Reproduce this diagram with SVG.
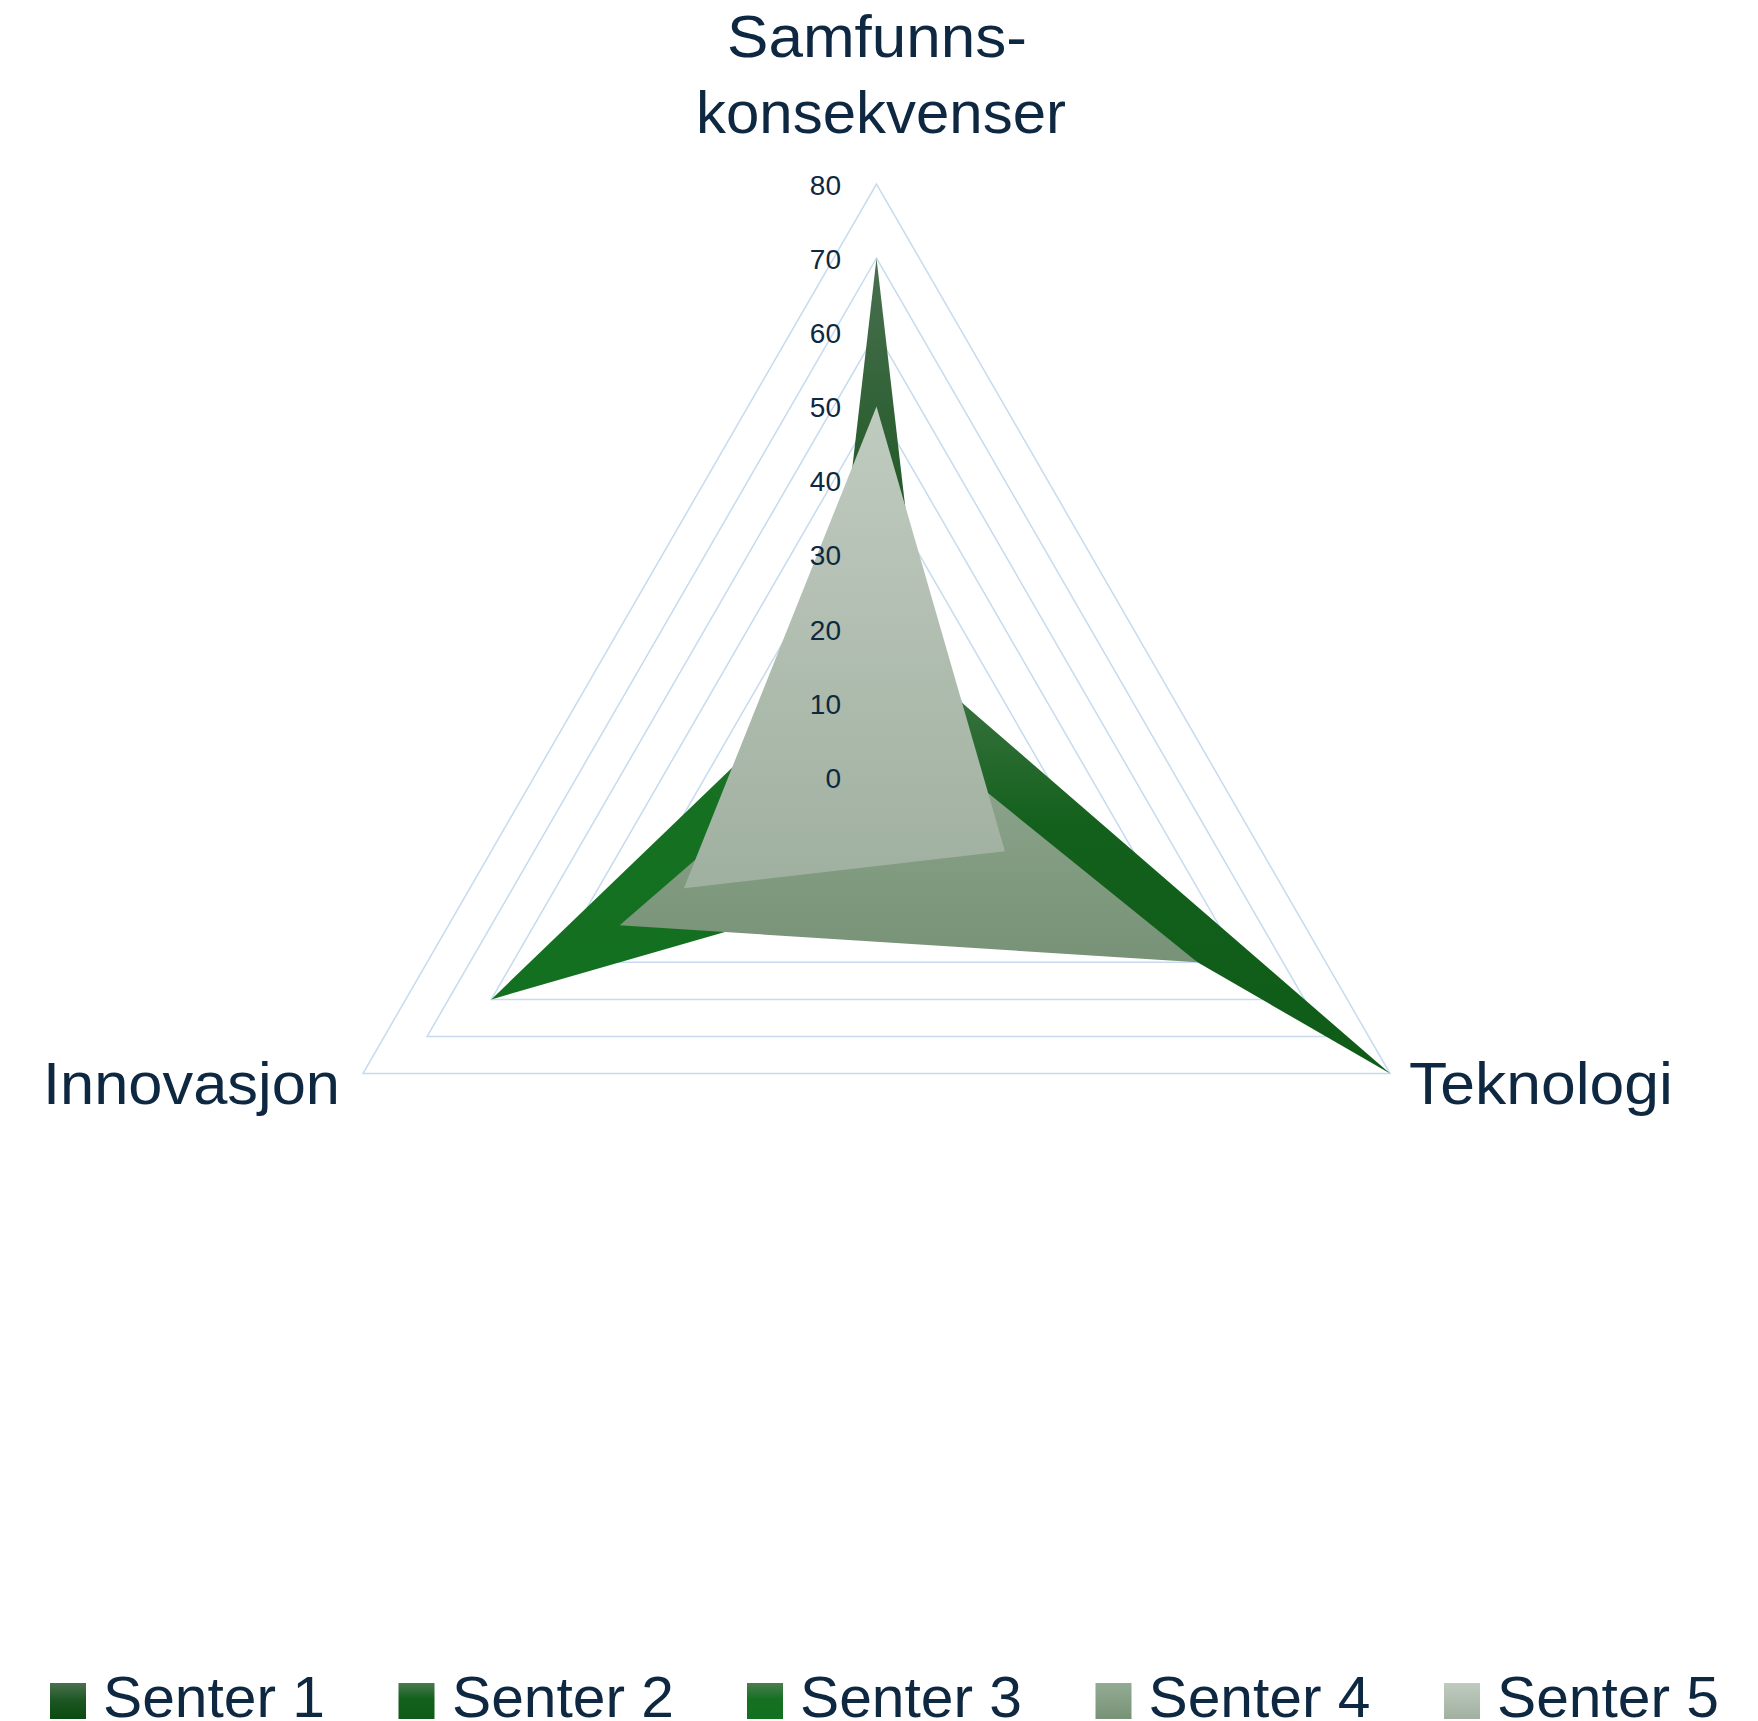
<svg xmlns="http://www.w3.org/2000/svg" width="1758" height="1721" viewBox="0 0 1758 1721">
<style>
.ring{fill:none;stroke:#c6dbf0;stroke-width:1.5}
.t{font-family:"Liberation Sans",Arial,sans-serif;fill:#0e2841}
.ax{font-size:60px}
.tick{font-size:28px;text-anchor:end}
.leg{font-size:57px}
</style>
<defs>
<linearGradient id="g1" x1="0" y1="0" x2="0" y2="1"><stop offset="0" stop-color="#4a7050"/><stop offset="0.5" stop-color="#1c5621"/><stop offset="1" stop-color="#0a4a10"/></linearGradient>
<linearGradient id="g2" x1="0" y1="0" x2="0" y2="1"><stop offset="0" stop-color="#4a7a50"/><stop offset="0.45" stop-color="#12601b"/><stop offset="1" stop-color="#0e5c18"/></linearGradient>
<linearGradient id="g3" x1="0" y1="0" x2="0" y2="1"><stop offset="0" stop-color="#4a7e50"/><stop offset="0.45" stop-color="#167022"/><stop offset="1" stop-color="#137020"/></linearGradient>
<linearGradient id="g4" x1="0" y1="0" x2="0" y2="1"><stop offset="0" stop-color="#93ab93"/><stop offset="1" stop-color="#779277"/></linearGradient>
<linearGradient id="g5" x1="0" y1="0" x2="0" y2="1"><stop offset="0" stop-color="#c0cbc0"/><stop offset="1" stop-color="#a0b0a0"/></linearGradient>
</defs>
<rect width="1758" height="1721" fill="#fff"/>
<g id="grid">
<polygon class="ring" points="876.5,702.88 940.69,814.06 812.31,814.06"/>
<polygon class="ring" points="876.5,628.75 1004.89,851.13 748.11,851.13"/>
<polygon class="ring" points="876.5,554.63 1069.08,888.19 683.92,888.19"/>
<polygon class="ring" points="876.5,480.5 1133.27,925.25 619.73,925.25"/>
<polygon class="ring" points="876.5,406.38 1197.47,962.31 555.53,962.31"/>
<polygon class="ring" points="876.5,332.25 1261.66,999.38 491.34,999.38"/>
<polygon class="ring" points="876.5,258.13 1325.86,1036.44 427.14,1036.44"/>
<polygon class="ring" points="876.5,184 1390.05,1073.5 362.95,1073.5"/>
</g>
<g id="connectors">
<polygon id="senter1" fill="url(#g1)" points="876.5,258.13 940.69,814.06 812.31,814.06"/>
<polygon id="senter2" fill="url(#g2)" points="876.5,628.75 1390.05,1073.5 876.5,777"/>
<polygon id="senter3" fill="url(#g3)" points="876.5,628.75 1004.89,851.13 491.34,999.38"/>
<polygon id="senter4" fill="url(#g4)" points="876.5,702.88 1197.47,962.31 619.73,925.25"/>
<polygon id="senter5" fill="url(#g5)" points="876.5,406.38 1004.89,851.13 683.92,888.19"/>
</g>
<g id="ticks" class="t tick">
<text x="841" y="195">80</text>
<text x="841" y="269">70</text>
<text x="841" y="343">60</text>
<text x="841" y="417">50</text>
<text x="841" y="491">40</text>
<text x="841" y="565">30</text>
<text x="841" y="640">20</text>
<text x="841" y="714">10</text>
<text x="841" y="788">0</text>
</g>
<g id="axis-samfunn" class="t ax"><text x="727" y="57" textLength="300" lengthAdjust="spacingAndGlyphs">Samfunns-</text><text x="696" y="133" textLength="370" lengthAdjust="spacingAndGlyphs">konsekvenser</text></g>
<g id="axis-innovasjon" class="t ax"><text x="43" y="1104" textLength="297" lengthAdjust="spacingAndGlyphs">Innovasjon</text></g>
<g id="axis-teknologi" class="t ax"><text x="1409" y="1104" textLength="264" lengthAdjust="spacingAndGlyphs">Teknologi</text></g>
<g id="legend" class="t leg">
<rect x="50" y="1683" width="36" height="36" fill="url(#g1)"/><text x="103" y="1717" textLength="222" lengthAdjust="spacingAndGlyphs">Senter 1</text>
<rect x="398.5" y="1683" width="36" height="36" fill="url(#g2)"/><text x="452" y="1717" textLength="222" lengthAdjust="spacingAndGlyphs">Senter 2</text>
<rect x="747" y="1683" width="36" height="36" fill="url(#g3)"/><text x="800" y="1717" textLength="222" lengthAdjust="spacingAndGlyphs">Senter 3</text>
<rect x="1095.5" y="1683" width="36" height="36" fill="url(#g4)"/><text x="1148.5" y="1717" textLength="222" lengthAdjust="spacingAndGlyphs">Senter 4</text>
<rect x="1444" y="1683" width="36" height="36" fill="url(#g5)"/><text x="1497" y="1717" textLength="222" lengthAdjust="spacingAndGlyphs">Senter 5</text>
</g>
</svg>
